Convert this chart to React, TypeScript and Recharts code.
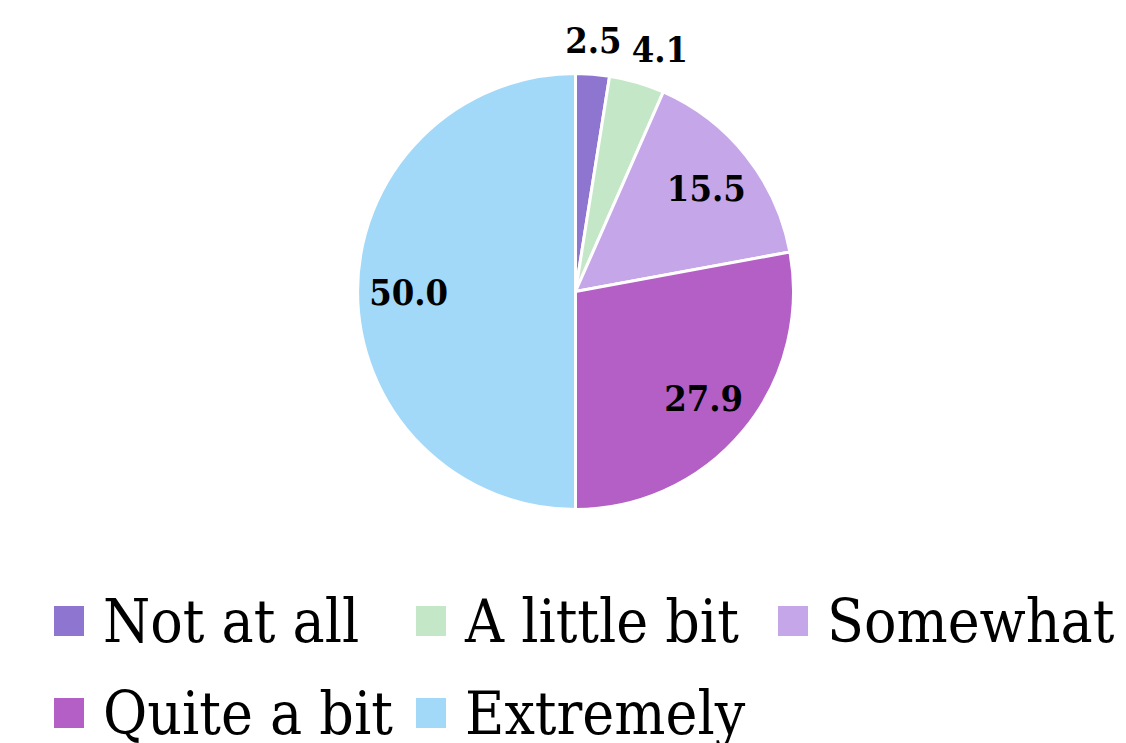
import { PieChart, Pie, Cell, Legend } from 'recharts';

// page default margin would shift the chart, so drop it
document.body.style.margin = '0';

const categories = ['Not at all', 'A little bit', 'Somewhat', 'Quite a bit', 'Extremely'];
const shares = [2.5, 4.1, 15.5, 27.9, 50.0];
const sliceColors = ['#8E75D0', '#C4E8C7', '#C5A6E8', '#B35FC5', '#A3D9F8'];

const chartData = categories.map((name, i) => ({ name, value: shares[i] }));

const RADIAN = Math.PI / 180;
const SERIF = '"DejaVu Serif", serif';

// small slices get their label outside the rim (box resting on the rim), the rest sit inside
const renderLabel = ({ cx, cy, midAngle, outerRadius, value }: any) => {
  let x: number;
  let y: number;
  if (value < 5) {
    const r = outerRadius + 10;
    const s = Math.sin(-midAngle * RADIAN);
    const c = Math.cos(-midAngle * RADIAN);
    const push = Math.sign(c) * 22 * Math.max(0, Math.min(1, (Math.abs(c) - 0.1) * 5));
    x = cx + r * c + push;
    y = cy + r * s - 24;
  } else {
    const r = outerRadius * 0.765;
    x = cx + r * Math.cos(-midAngle * RADIAN);
    y = cy + r * Math.sin(-midAngle * RADIAN);
  }
  return (
    <text
      x={x}
      y={y}
      textAnchor="middle"
      dominantBaseline="central"
      fill="#000"
      style={{ fontFamily: SERIF, fontStretch: 'condensed', fontWeight: 700, fontSize: 36 }}
    >
      {value.toFixed(1)}
    </text>
  );
};

const LegendGrid = () => (
  <div
    style={{
      display: 'grid',
      gridTemplateColumns: 'repeat(3, 362px)',
      paddingLeft: 54,
      fontFamily: SERIF,
      fontStretch: 'condensed',
      fontSize: 60,
      lineHeight: '92px',
      color: '#000',
    }}
  >
    {categories.map((name, i) => (
      <div key={name} style={{ display: 'flex', alignItems: 'center', whiteSpace: 'nowrap' }}>
        <span
          style={{
            display: 'inline-block',
            width: 30,
            height: 30,
            marginRight: 19,
            background: sliceColors[i],
            flex: 'none',
          }}
        />
        <span>{name}</span>
      </div>
    ))}
  </div>
);

export default function App() {
  return (
    <div style={{ width: 1126, height: 743, background: '#fff', overflow: 'hidden' }}>
      <PieChart width={1126} height={743} margin={{ top: 0, right: 0, bottom: 0, left: 0 }}>
        <Pie
          data={chartData}
          dataKey="value"
          nameKey="name"
          cx={575.5}
          cy={291.5}
          outerRadius={218}
          startAngle={90}
          endAngle={-270}
          stroke="#fff"
          strokeWidth={3}
          label={renderLabel}
          labelLine={false}
          isAnimationActive={false}
        >
          {chartData.map((d, i) => (
            <Cell key={d.name} fill={sliceColors[i]} />
          ))}
        </Pie>
        <Legend
          content={<LegendGrid />}
          wrapperStyle={{ top: 575, left: 0, width: 1126, bottom: 'auto' }}
        />
      </PieChart>
    </div>
  );
}
